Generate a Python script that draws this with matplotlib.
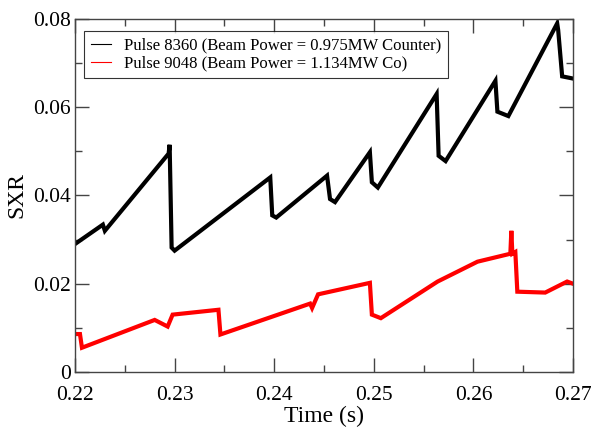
import matplotlib
matplotlib.use("Agg")
import matplotlib.pyplot as plt
from matplotlib.ticker import MultipleLocator

# breakpoints of the two SXR traces
t_8360 = [0.2200, 0.2228, 0.2230, 0.2294, 0.2295, 0.2297, 0.2300, 0.2396, 0.2398,
          0.2402, 0.2453, 0.2456, 0.2461, 0.2496, 0.2498, 0.2504, 0.2563, 0.2565,
          0.2572, 0.2622, 0.2624, 0.2635, 0.2684, 0.2685, 0.2689, 0.2700]
sxr_8360 = [0.0290, 0.0334, 0.0320, 0.0495, 0.0515, 0.0282, 0.0275, 0.0441, 0.0355,
            0.0350, 0.0445, 0.0392, 0.0385, 0.0498, 0.0430, 0.0418, 0.0630, 0.0490,
            0.0478, 0.0660, 0.0590, 0.0580, 0.0790, 0.0775, 0.0670, 0.0665]

t_9048 = [0.2200, 0.2205, 0.2207, 0.2280, 0.2293, 0.2298, 0.2344, 0.2346, 0.2436,
          0.2438, 0.2444, 0.2496, 0.2498, 0.2507, 0.2564, 0.2604, 0.2637, 0.2638,
          0.2639, 0.2642, 0.2644, 0.2672, 0.2694, 0.2700]
sxr_9048 = [0.0086, 0.0086, 0.0055, 0.0118, 0.0103, 0.0130, 0.0141, 0.0085, 0.0155,
            0.0145, 0.0176, 0.0202, 0.0130, 0.0122, 0.0205, 0.0250, 0.0268, 0.0320,
            0.0268, 0.0272, 0.0182, 0.0180, 0.0205, 0.0200]

labels = ["Pulse 8360 (Beam Power = 0.975MW Counter)",
          "Pulse 9048 (Beam Power = 1.134MW Co)"]

plt.rcParams["font.family"] = ["Liberation Serif", "DejaVu Serif"]

fig = plt.figure(figsize=(5.97, 4.30), dpi=100)
ax = fig.add_axes([0.1256, 0.1349, 0.8344, 0.8209])

ax.plot(t_8360, sxr_8360, color="black", lw=3.0, solid_joinstyle="miter")
ax.plot(t_9048, sxr_9048, color="#ff0000", lw=3.0, solid_joinstyle="miter")

# thin proxy lines for the legend
h1, = ax.plot([], [], color="black", lw=0.8)
h2, = ax.plot([], [], color="#ff0000", lw=0.8)
leg = ax.legend([h1, h2], labels, loc="upper left", bbox_to_anchor=(0.018, 0.966),
                fontsize=12, frameon=True, fancybox=False, borderaxespad=0,
                handlelength=1.2, handletextpad=0.8, borderpad=0.4,
                labelspacing=0.1)
leg.get_frame().set_edgecolor("black")
leg.get_frame().set_linewidth(0.8)

ax.set_xlim(0.22, 0.27)
ax.set_ylim(0, 0.08)
ax.set_xticks([0.22, 0.23, 0.24, 0.25, 0.26, 0.27])
ax.set_yticks([0, 0.02, 0.04, 0.06, 0.08])
ax.set_xticklabels(["0.22", "0.23", "0.24", "0.25", "0.26", "0.27"])
ax.set_yticklabels(["0", "0.02", "0.04", "0.06", "0.08"])
ax.xaxis.set_minor_locator(MultipleLocator(0.005))
ax.yaxis.set_minor_locator(MultipleLocator(0.01))

ax.tick_params(which="both", direction="in", top=True, right=True,
               color="#444444", width=1)
ax.tick_params(which="major", length=10, labelsize=15.5)
ax.tick_params(which="minor", length=5)
ax.tick_params(axis="x", which="major", pad=10)
ax.tick_params(axis="y", which="major", pad=3)
for s in ax.spines.values():
    s.set_color("#444444")
    s.set_linewidth(1)

ax.set_xlabel("Time (s)", fontsize=17, labelpad=1)
ax.set_ylabel("SXR", fontsize=17, labelpad=4)

fig.savefig("out.png", dpi=100)
